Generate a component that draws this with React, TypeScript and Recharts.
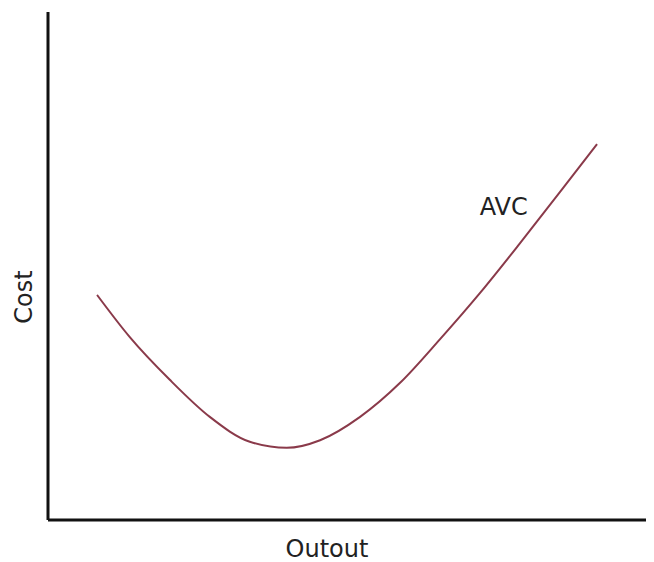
import { Label, Line, LineChart, ReferenceDot, XAxis, YAxis } from "recharts"

// AVC curve (output on x, cost on y, both on a 0-100 scale)
const output = [8.1, 13.5, 20.1, 26.7, 33.3, 39.4, 44.9, 51.5, 58.1, 64.7, 71.3, 77.9, 84.5, 90.6]
const cost = [44.3, 36.0, 27.6, 20.3, 15.4, 14.2, 15.7, 20.3, 27.0, 35.6, 44.7, 54.5, 64.6, 74.0]

const curveName = "AVC"
const xTitle = "Outout"
const yTitle = "Cost"
// where the curve name sits, in data units
const nameAt = { x: 75.2, y: 61.8 }

const data = output.map((q, i) => ({ q, avc: cost[i] }))

const font = "'DejaVu Sans', Verdana, sans-serif"
const textColor = "#222"

export default function App() {
  return (
    <LineChart
      width={646}
      height={554}
      data={data}
      margin={{ top: 4, right: 0, bottom: 0, left: 0 }}
      style={{ fontFamily: font }}
    >
      <XAxis
        type="number"
        dataKey="q"
        domain={[0, 100]}
        height={42}
        tick={false}
        tickLine={false}
        axisLine={{ stroke: "#111", strokeWidth: 3 }}
      >
        <Label
          content={({ viewBox }: any) => (
            <text
              x={viewBox.x + viewBox.width / 2 - 24}
              y={viewBox.y + 37}
              textAnchor="middle"
              fontSize={24}
              fill={textColor}
              fontFamily={font}
            >
              {xTitle}
            </text>
          )}
        />
      </XAxis>
      <YAxis
        type="number"
        domain={[0, 100]}
        width={40}
        tick={false}
        tickLine={false}
        axisLine={{ stroke: "#111", strokeWidth: 3 }}
      >
        <Label
          content={({ viewBox }: any) => {
            const x = 24
            const y = viewBox.y + viewBox.height / 2 + 31
            return (
              <text
                x={x}
                y={y}
                transform={`rotate(-90 ${x} ${y})`}
                textAnchor="middle"
                fontSize={24}
                fill={textColor}
                fontFamily={font}
              >
                {yTitle}
              </text>
            )
          }}
        />
      </YAxis>
      <Line
        type="monotone"
        dataKey="avc"
        stroke="#8a3a4a"
        strokeWidth={2}
        dot={false}
        activeDot={false}
        isAnimationActive={false}
      />
      <ReferenceDot
        x={nameAt.x}
        y={nameAt.y}
        r={0}
        fill="none"
        stroke="none"
        label={{
          value: curveName,
          position: "center",
          fontSize: 24,
          fill: textColor,
          fontFamily: font,
        }}
      />
    </LineChart>
  )
}
